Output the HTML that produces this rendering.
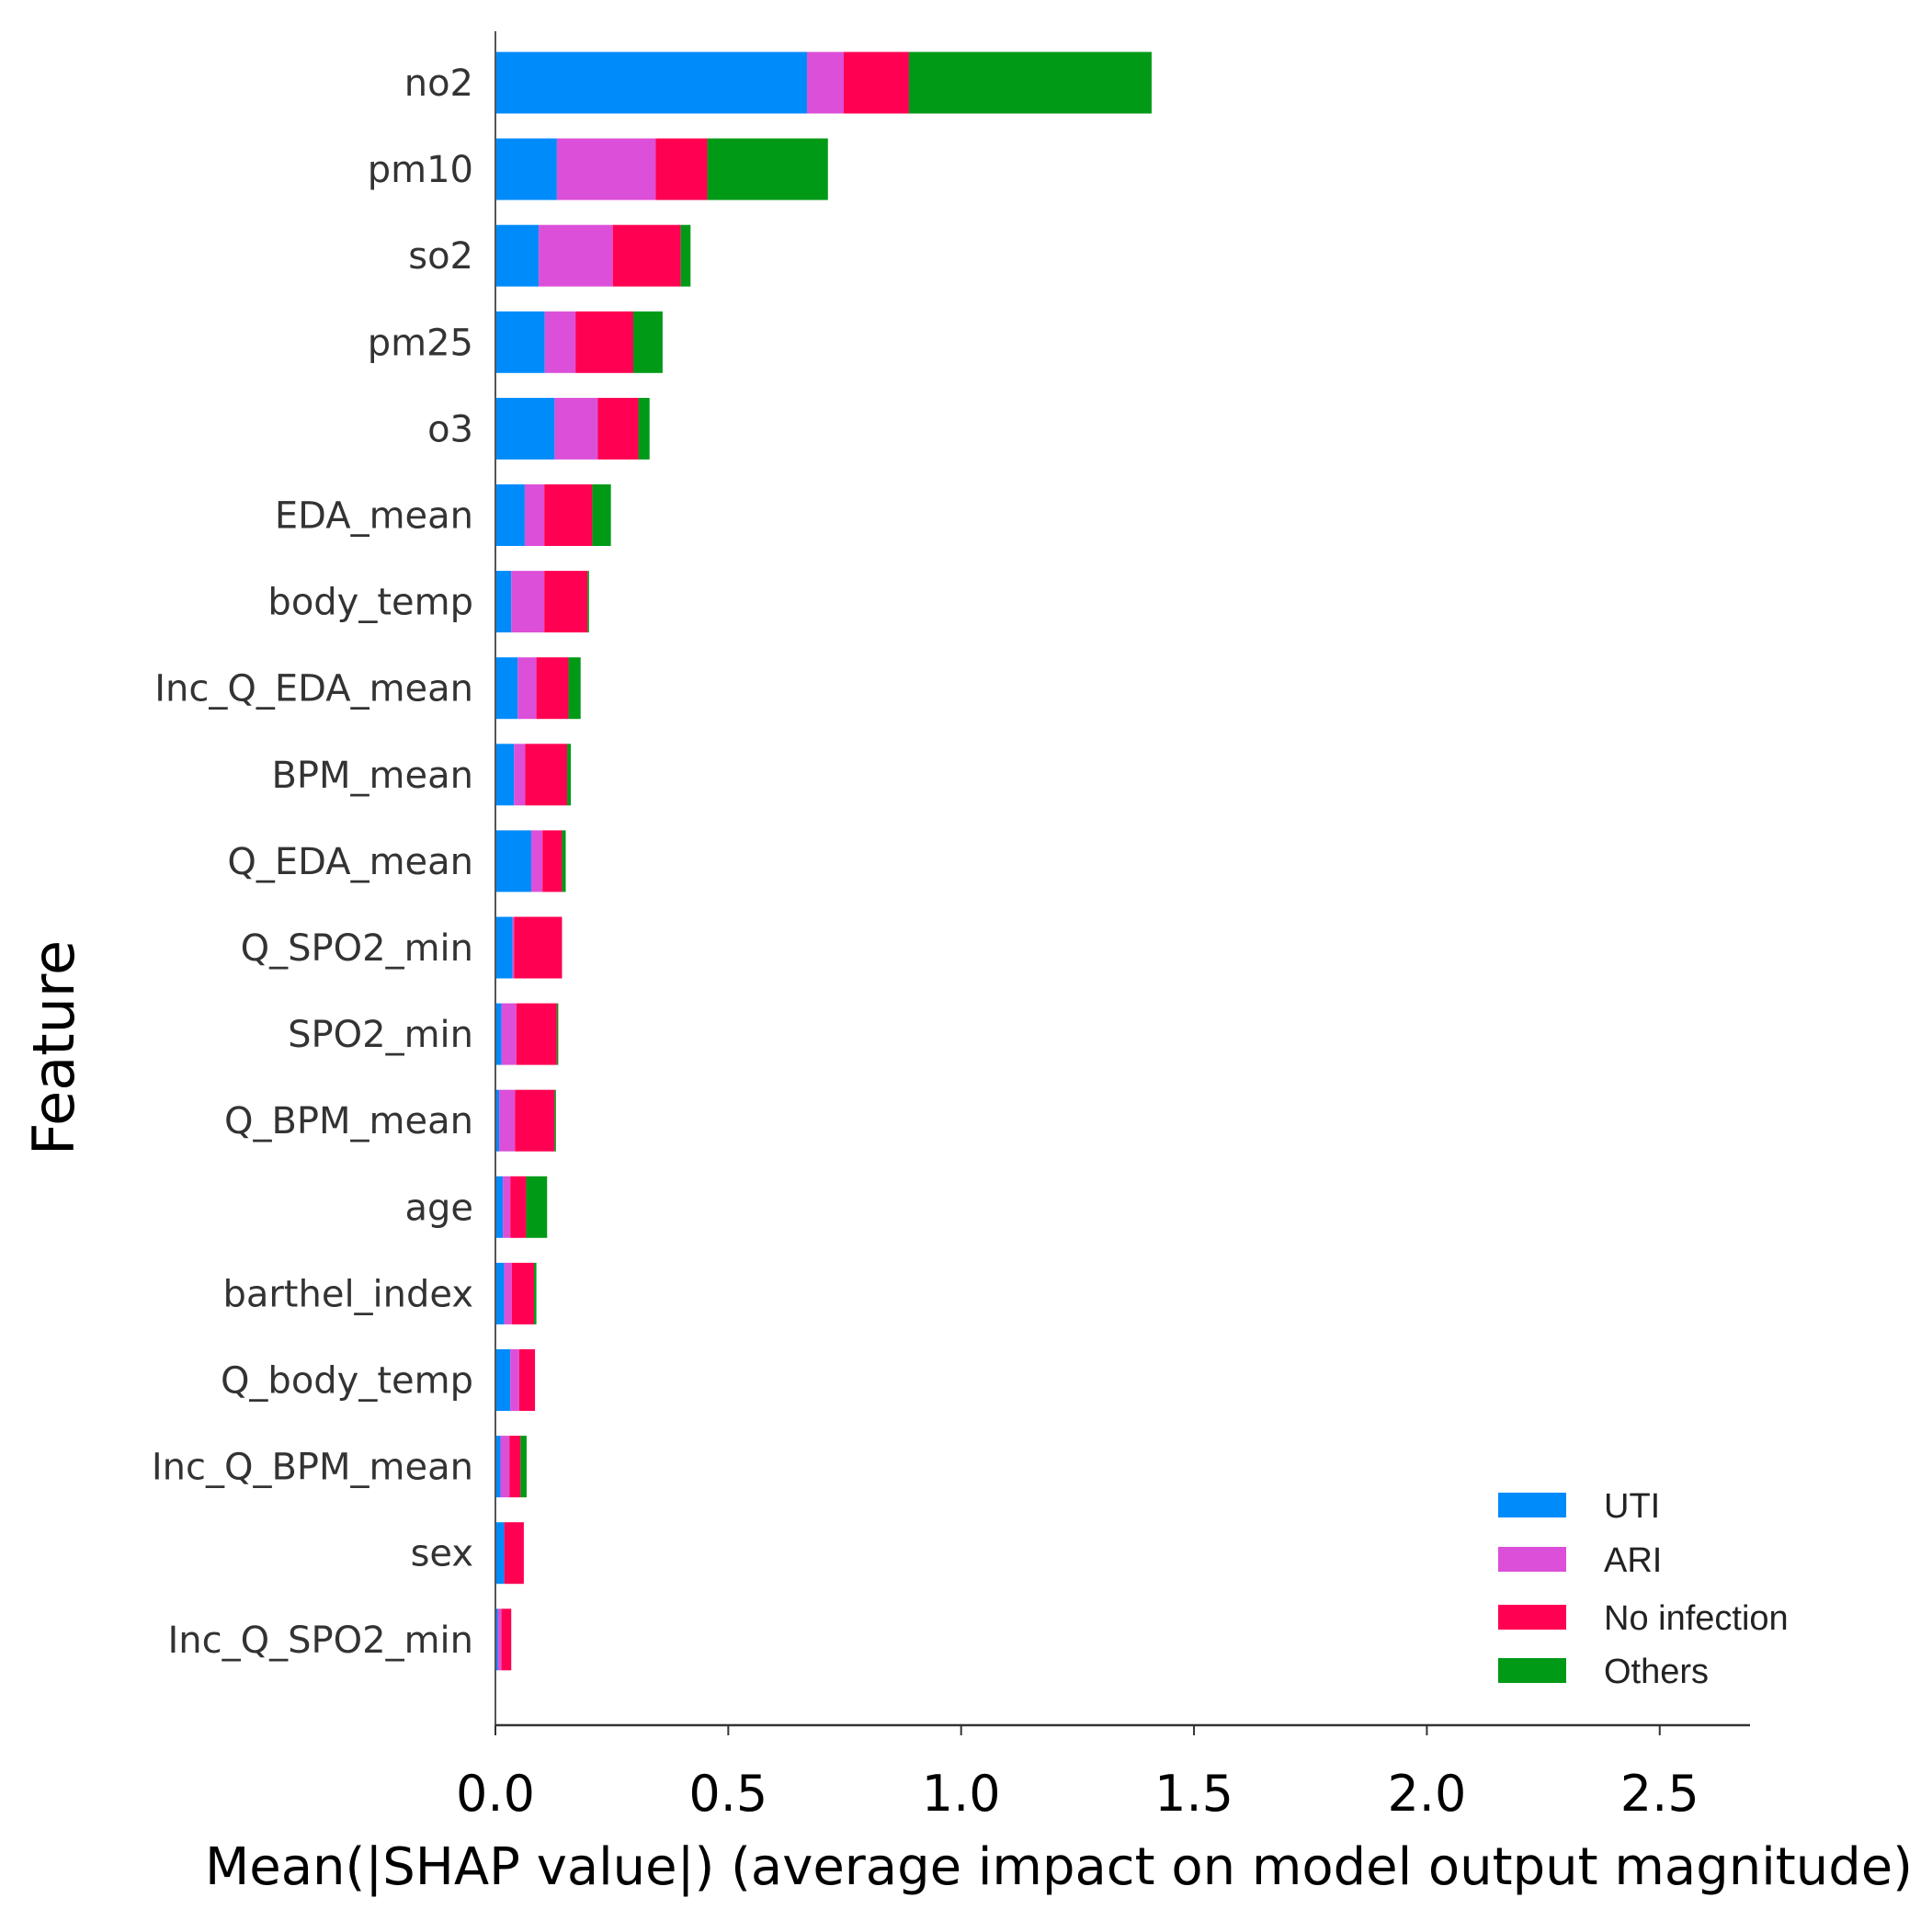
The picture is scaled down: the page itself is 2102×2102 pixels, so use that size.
<!DOCTYPE html>
<html><head><meta charset="utf-8"><style>
html,body{margin:0;padding:0;background:#fff;}
svg{display:block;font-family:"DejaVu Sans","Liberation Sans",sans-serif;}
</style></head><body>
<svg id="chart" width="2102" height="2102" viewBox="0 0 2102 2102" xmlns="http://www.w3.org/2000/svg">
<g id="bars"></g>
<g id="axes"></g>
<g id="legend"></g>
</svg>
<script>
const features=["no2","pm10","so2","pm25","o3","EDA_mean","body_temp","Inc_Q_EDA_mean","BPM_mean","Q_EDA_mean","Q_SPO2_min","SPO2_min","Q_BPM_mean","age","barthel_index","Q_body_temp","Inc_Q_BPM_mean","sex","Inc_Q_SPO2_min"];
const seriesNames=["UTI","ARI","No infection","Others"];
const uti=[0.669,0.132,0.093,0.106,0.127,0.063,0.034,0.048,0.040,0.077,0.037,0.013,0.008,0.016,0.019,0.032,0.011,0.019,0.005];
const ari=[0.079,0.212,0.159,0.066,0.093,0.042,0.071,0.040,0.024,0.024,0.003,0.032,0.034,0.016,0.016,0.019,0.019,0.000,0.008];
const noInf=[0.140,0.111,0.146,0.124,0.087,0.103,0.093,0.069,0.090,0.042,0.103,0.087,0.085,0.034,0.048,0.034,0.024,0.042,0.021];
const others=[0.521,0.259,0.021,0.063,0.024,0.040,0.003,0.026,0.008,0.008,0.000,0.003,0.003,0.045,0.005,0.000,0.013,0.000,0.000];
const xTicks=[0,0.5,1.0,1.5,2.0,2.5];
const xTickLabels=["0.0","0.5","1.0","1.5","2.0","2.5"];
const colors=["#008bfb","#dc4fd8","#ff0052","#009a17"];
const NS="http://www.w3.org/2000/svg";
const X0=539,PXU=506.7,Y0=90,STEP=94.1,BH=67;
const xs=v=>X0+v*PXU, ys=i=>Y0+i*STEP;
function mk(t,a,p){const e=document.createElementNS(NS,t);for(const k in a)e.setAttribute(k,a[k]);p.appendChild(e);return e;}
const bars=document.getElementById('bars'),axes=document.getElementById('axes'),leg=document.getElementById('legend');
const series=[uti,ari,noInf,others];
features.forEach((f,i)=>{
  let acc=0;
  series.forEach((s,k)=>{
    const r=mk('rect',{x:xs(acc),y:ys(i)-BH/2,width:Math.max(0,xs(acc+s[i])-xs(acc)),height:BH,fill:colors[k]},bars);
    
    
    acc+=s[i];
  });
  const t=mk('text',{x:515,y:ys(i)+14,'text-anchor':'end','font-size':40,fill:'#333'},axes);
  t.textContent=f;
  
  
});
let l=mk('line',{x1:X0,y1:34,x2:X0,y2:1877,stroke:'#555','stroke-width':2},axes);

l=mk('line',{x1:X0,y1:1877,x2:1904,y2:1877,stroke:'#333','stroke-width':2.5},axes);

xTicks.forEach((v,i)=>{
  const tk=mk('line',{x1:xs(v),y1:1877,x2:xs(v),y2:1888,stroke:'#333','stroke-width':2},axes);
  
  const t=mk('text',{x:xs(v),y:1970,'text-anchor':'middle','font-size':54,fill:'#000'},axes);
  t.textContent=xTickLabels[i];
  
});
let t=mk('text',{x:1152,y:2050,'text-anchor':'middle','font-size':56,fill:'#000',textLength:1858,lengthAdjust:'spacingAndGlyphs'},axes);
t.textContent="Mean(|SHAP value|) (average impact on model output magnitude)";

t=mk('text',{x:0,y:0,'text-anchor':'middle','font-size':62,fill:'#000',transform:'translate(80,1140) rotate(-90)'},axes);
t.textContent="Feature";

const legY=[1638,1697,1760,1818];
seriesNames.forEach((n,k)=>{
  const r=mk('rect',{x:1630,y:legY[k]-14,width:74,height:27,fill:colors[k]},leg);
  
  
  const tx=mk('text',{x:1745,y:legY[k]+13,'font-size':38,fill:'#222','font-family':'"Liberation Sans",sans-serif'},leg);
  tx.textContent=n;
  
});
</script>
</body></html>
